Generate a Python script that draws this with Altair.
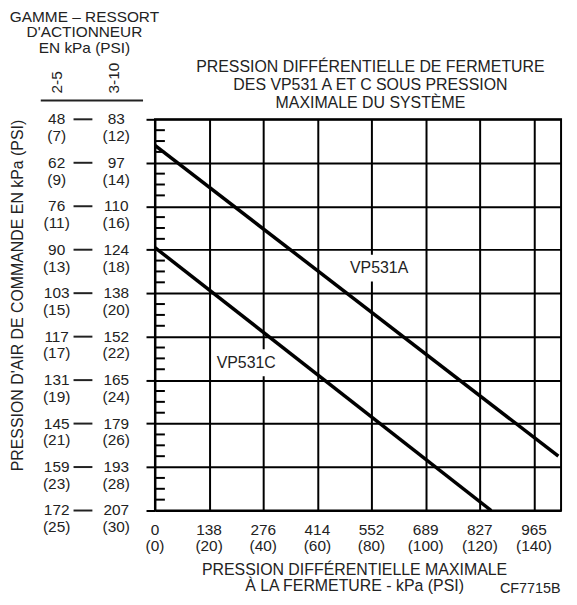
import altair as alt
import pandas as pd

# ---- data ----
# X axis: max closing differential pressure (PSI positions, kPa labels)
x_psi = [0, 20, 40, 60, 80, 100, 120, 140]
x_kpa = ["0", "138", "276", "414", "552", "689", "827", "965"]
x_psi_lbl = ["(0)", "(20)", "(40)", "(60)", "(80)", "(100)", "(120)", "(140)"]

# Y axis: control air pressure, spring ranges 2-5 and 3-10
y_psi_25 = [7, 9, 11, 13, 15, 17, 19, 21, 23, 25]
y_kpa_25 = ["48", "62", "76", "90", "103", "117", "131", "145", "159", "172"]
y_psi_310 = [12, 14, 16, 18, 20, 22, 24, 26, 28, 30]
y_kpa_310 = ["83", "97", "110", "124", "138", "152", "165", "179", "193", "207"]
y_minor = [7.5, 8, 8.5, 9.5, 10, 10.5, 11.5, 12, 12.5, 13.5, 14, 14.5,
           15.5, 16, 16.5, 17.5, 18, 18.5, 19.5, 20, 20.5, 21.5, 22, 22.5,
           23.5, 24, 24.5]

# Series (x in PSI, y in PSI of the 2-5 scale)
vp531a_x = [0, 149.0]
vp531a_y = [8.2, 22.5]
vp531c_x = [0, 124.2]
vp531c_y = [12.9, 25.0]

label_names = ["VP531A", "VP531C"]
label_x = [82.8, 33.7]
label_y = [13.85, 18.2]

W, H = 409, 394
FONT = "Liberation Sans"
TXT = "#222222"
FS = 15.5
FT = 16

lines_df = pd.DataFrame({
    "x": vp531a_x + vp531c_x,
    "y": vp531a_y + vp531c_y,
    "s": ["A"] * len(vp531a_x) + ["C"] * len(vp531c_x),
})
ylab_df = pd.DataFrame({
    "y": y_psi_25,
    "k25": y_kpa_25,
    "p25": [f"({v})" for v in y_psi_25],
    "k310": y_kpa_310,
    "p310": [f"({v})" for v in y_psi_310],
})
xlab_df = pd.DataFrame({"x": x_psi, "k": x_kpa, "p": x_psi_lbl})
minor_df = pd.DataFrame({"y": y_minor})
lab_df = pd.DataFrame({"x": label_x, "y": label_y, "t": label_names})
one = pd.DataFrame({"a": [0]})

xs = alt.Scale(domain=[0, 150], nice=False, zero=False)
ys = alt.Scale(domain=[7, 25], nice=False, zero=False, reverse=True)

x_axis = alt.Axis(values=x_psi, grid=True, gridColor="black", gridWidth=2,
                  gridOpacity=1, ticks=False, labels=False, domain=False,
                  title=None)
y_axis = alt.Axis(values=y_psi_25, grid=True, gridColor="black", gridWidth=2,
                  gridOpacity=1, ticks=True, tickSize=9, tickWidth=2,
                  tickColor="black", labels=False, domain=False,
                  title="PRESSION D'AIR DE COMMANDE EN kPa (PSI)",
                  titleFont=FONT, titleFontSize=FT, titleFontWeight="normal",
                  titleColor=TXT, titleX=-138, titleY=177,
                  titleBaseline="middle", titleAngle=270)


def X(f="x"):
    return alt.X(f"{f}:Q", scale=xs, axis=x_axis)


def Y(f="y"):
    return alt.Y(f"{f}:Q", scale=ys, axis=y_axis)


lines = alt.Chart(lines_df).mark_line(color="black", strokeWidth=3.5).encode(
    x=X(), y=Y(), detail="s:N",
)

minor = alt.Chart(minor_df).mark_rule(color="black", strokeWidth=2).encode(
    x=alt.value(0), x2=alt.value(10), y=Y()
)

bg = alt.Chart(lab_df).mark_point(
    shape="M-1,-0.45L1,-0.45L1,0.45L-1,0.45Z", filled=True, color="white",
    opacity=1, size=3600, strokeWidth=0
).encode(x=X(), y=Y())

labs = alt.Chart(lab_df).mark_text(font=FONT, fontSize=FT, color=TXT,
                                   baseline="middle", align="center").encode(
    x=X(), y=Y(), text="t:N")


def ytext(field, xpix, dy):
    return alt.Chart(ylab_df).mark_text(font=FONT, fontSize=FS, color=TXT,
                                        baseline="middle", align="center",
                                        dy=dy).encode(
        x=alt.value(xpix), y=Y(), text=f"{field}:N")


dash = alt.Chart(ylab_df).mark_rule(color=TXT, strokeWidth=2).encode(
    x=alt.value(-82), x2=alt.value(-63), y=Y())


def xtext(field, ypix):
    return alt.Chart(xlab_df).mark_text(font=FONT, fontSize=FS, color=TXT,
                                        baseline="middle", align="center").encode(
        x=X(), y=alt.value(ypix), text=f"{field}:N")


def note(text, x, y, lh=16.5, angle=0, align="center", fs=FT):
    return alt.Chart(one).mark_text(font=FONT, fontSize=fs, color=TXT,
                                    baseline="middle", align=align,
                                    angle=angle, lineBreak="\n",
                                    lineHeight=lh).encode(
        x=alt.value(x), y=alt.value(y), text=alt.value(text))


hline = alt.Chart(one).mark_rule(color=TXT, strokeWidth=2).encode(
    x=alt.value(-115), x2=alt.value(-12), y=alt.value(-19))

chart = alt.layer(
    minor,
    bg,
    labs,
    lines,
    ytext("k25", -99, 0), ytext("p25", -99, 17),
    ytext("k310", -39, 0), ytext("p310", -39, 17),
    dash,
    xtext("k", H + 20), xtext("p", H + 36),
    note("GAMME – RESSORT\nD'ACTIONNEUR\nEN kPa (PSI)", -71, -103.5, lh=16, fs=15.5),
    note("2-5", -99, -26, angle=270, align="left", fs=FS),
    note("3-10", -41, -26, angle=270, align="left", fs=FS),
    hline,
    note("PRESSION DIFFÉRENTIELLE DE FERMETURE\nDES VP531 A ET C SOUS PRESSION\nMAXIMALE DU SYSTÈME", 217, -53, lh=18.5),
    note("PRESSION DIFFÉRENTIELLE MAXIMALE\nÀ LA FERMETURE - kPa (PSI)", 201, 454),
    note("CF7715B", 378, 473, fs=14.5),
).properties(
    width=W, height=H,
    autosize=alt.AutoSizeParams(type="none"),
    padding={"left": 148, "top": 110, "right": 8, "bottom": 86},
    background="white",
).configure_view(stroke="black", strokeWidth=2)

chart.save("out.html", embed_options={"renderer": "svg", "actions": False})
